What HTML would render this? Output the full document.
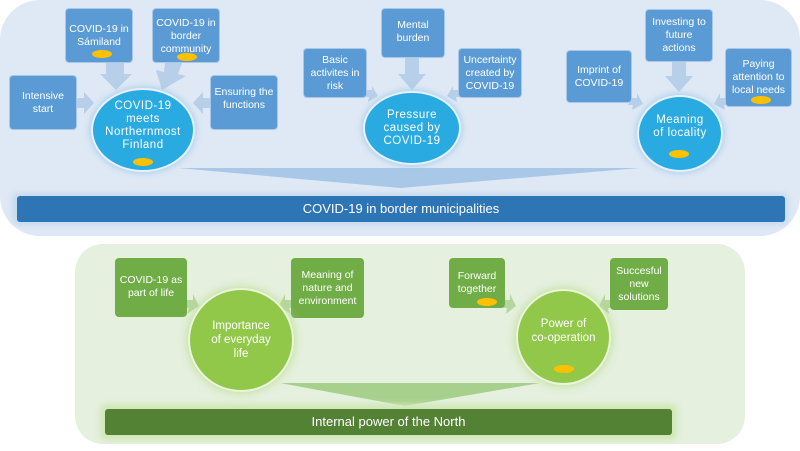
<!DOCTYPE html>
<html><head><meta charset="utf-8"><style>
body{margin:0;width:800px;height:451px;background:#fff;position:relative;overflow:hidden;font-family:"Liberation Sans",sans-serif}
div{position:absolute;box-sizing:border-box}
.b{background:#5b9bd5;color:#fff;border:1px solid #a9c8e8;border-radius:4px;font-size:10.5px;line-height:13px;text-align:center;display:flex;align-items:center;justify-content:center;flex-direction:column;padding:2px}
.g{background:#70ad47;color:#fff;border-radius:4px;font-size:10.5px;line-height:13px;text-align:center;display:flex;align-items:center;justify-content:center;flex-direction:column;padding:2px}
.e{background:#29abe2;border:2px solid #e6f2fb;border-radius:50%;color:#fff;font-size:11.5px;line-height:13px;text-align:center;display:flex;align-items:center;justify-content:center;flex-direction:column;box-shadow:0 0 8px #9cc3e6;letter-spacing:.5px}
.c{background:#92c84a;border:2px solid #eaf5dc;border-radius:50%;color:#fff;font-size:11.5px;line-height:14px;text-align:center;display:flex;align-items:center;justify-content:center;flex-direction:column;box-shadow:0 0 10px #b8dc8c}
.d{width:20px;height:8px;background:#ffc000;border-radius:50%}
</style></head><body>
<div style="left:0;top:0;width:800px;height:236px;background:#dfe9f5;border-radius:40px"></div>
<div style="left:75px;top:244px;width:670px;height:200px;background:#e5f0df;border-radius:28px"></div>
<svg style="position:absolute;left:0;top:0" width="800" height="451">
<polygon points="178,168 640,168 400,188" fill="#a9c8e8"/>
<polygon points="280,383 540,383 405,406" fill="#a8d08d"/>
<g fill="#b7cfe9">
<polygon points="106,63 124,63 124,74 132,74 116,90 100,74 106,74"/>
<polygon points="165,63 182,63 178,74 186,76 162,90 156,70 164,72"/>
<polygon points="77,98 84,98 84,92 94,103 84,114 84,108 77,108"/>
<polygon points="210,98 203,98 203,92 193,103 203,114 203,108 210,108"/>
<polygon points="405,58 419,58 419,74 426,74 412,90 398,74 405,74"/>
<polygon points="367,90 372,90 372,86 378,96 368,102 369,97 364,97"/>
<polygon points="458,90 453,90 453,86 447,96 457,102 456,97 461,97"/>
<polygon points="672,62 686,62 686,76 693,76 679,92 665,76 672,76"/>
<polygon points="632,98 637,98 637,93 643,104 632,110 633,105 628,105"/>
<polygon points="725,98 720,98 720,93 714,104 725,110 724,105 729,105"/>
</g>
<g fill="#b5d69e">
<polygon points="187,300 193,300 193,294 199,306 187,314 189,308 184,308"/>
<polygon points="291,300 285,300 285,294 279,306 291,314 289,308 294,308"/>
<polygon points="505,300 510,300 510,294 516,306 506,314 507,308 503,308"/>
<polygon points="610,300 605,300 605,294 599,306 609,314 608,308 612,308"/>
</g>
</svg>
<div style="left:12px;top:193px;width:776px;height:32px;background:#c5daf0;border-radius:6px;filter:blur(3px)"></div>
<div style="left:17px;top:196px;width:768px;height:26px;background:#2e75b6;border-radius:3px;color:#fff;font-size:13px;text-align:center;line-height:26px">COVID-19 in border municipalities</div>
<div style="left:100px;top:404px;width:577px;height:36px;background:#cfe7b5;border-radius:6px;filter:blur(3px)"></div>
<div style="left:105px;top:409px;width:567px;height:26px;background:#548235;border-radius:3px;color:#fff;font-size:13px;text-align:center;line-height:26px">Internal power of the North</div>

<div class="b" style="left:9px;top:75px;width:68px;height:55px">Intensive<br>start</div>
<div class="b" style="left:65px;top:8px;width:68px;height:55px;justify-content:flex-start;padding-top:14px">COVID-19 in<br>Sámiland</div>
<div class="d" style="left:92px;top:50px"></div>
<div class="b" style="left:152px;top:8px;width:68px;height:55px;justify-content:flex-start;padding-top:8px">COVID-19 in<br>border<br>community</div>
<div class="d" style="left:177px;top:53px"></div>
<div class="b" style="left:210px;top:75px;width:68px;height:55px;justify-content:flex-start;padding-top:10px;white-space:nowrap;overflow:hidden">Ensuring the<br>functions</div>
<div class="e" style="left:91px;top:88px;width:104px;height:84px;padding-bottom:8px">COVID-19<br>meets<br>Northernmost<br>Finland</div>
<div class="d" style="left:133px;top:158px"></div>

<div class="b" style="left:303px;top:48px;width:64px;height:50px">Basic<br>activites in<br>risk</div>
<div class="b" style="left:381px;top:8px;width:64px;height:50px;justify-content:flex-start;padding-top:10px">Mental<br>burden</div>
<div class="b" style="left:458px;top:48px;width:64px;height:50px">Uncertainty<br>created by<br>COVID-19</div>
<div class="e" style="left:363px;top:91px;width:98px;height:74px">Pressure<br>caused by<br>COVID-19</div>

<div class="b" style="left:566px;top:50px;width:66px;height:53px">Imprint of<br>COVID-19</div>
<div class="b" style="left:645px;top:9px;width:68px;height:53px">Investing to<br>future<br>actions</div>
<div class="b" style="left:725px;top:48px;width:67px;height:59px;justify-content:flex-start;padding-top:9px">Paying<br>attention to<br>local needs</div>
<div class="d" style="left:751px;top:96px"></div>
<div class="e" style="left:637px;top:95px;width:86px;height:77px;padding-bottom:14px">Meaning<br>of locality</div>
<div class="d" style="left:669px;top:150px"></div>

<div class="g" style="left:115px;top:258px;width:72px;height:59px;justify-content:flex-start;padding-top:16px">COVID-19 as<br>part of life</div>
<div class="g" style="left:291px;top:258px;width:73px;height:60px">Meaning of<br>nature and<br>environment</div>
<div class="g" style="left:449px;top:258px;width:56px;height:50px;justify-content:flex-start;padding-top:12px">Forward<br>together</div>
<div class="d" style="left:477px;top:298px"></div>
<div class="g" style="left:610px;top:258px;width:58px;height:52px">Succesful<br>new<br>solutions</div>
<div class="c" style="left:188px;top:288px;width:106px;height:104px">Importance<br>of everyday<br>life</div>
<div class="c" style="left:516px;top:289px;width:95px;height:96px;padding-bottom:12px">Power of<br>co-operation</div>
<div class="d" style="left:554px;top:365px"></div>
</body></html>
